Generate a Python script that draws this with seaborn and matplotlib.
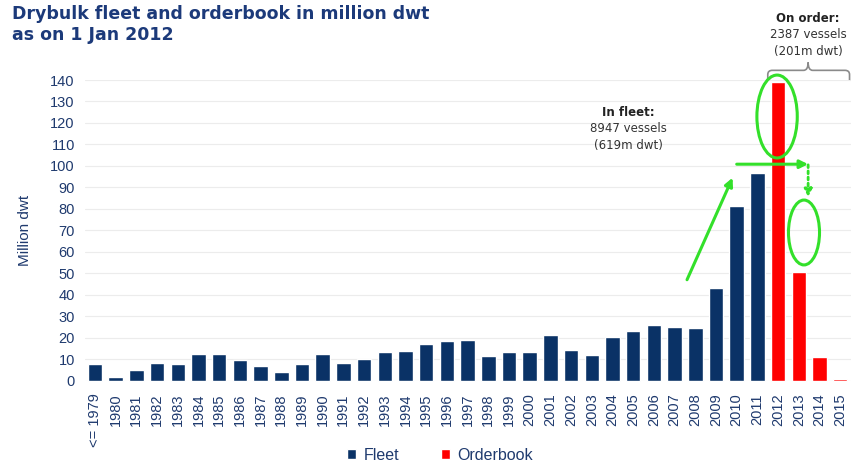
import matplotlib
matplotlib.use("Agg")
import matplotlib.pyplot as plt
from matplotlib.patches import Ellipse, Patch, PathPatch
from matplotlib.path import Path
import seaborn as sns
import pandas as pd

# Delivery year labels (fleet by build year, orderbook by scheduled delivery)
years = ["<= 1979"] + [str(y) for y in range(1980, 2016)]

fleet = [7.6, 1.6, 5.1, 8.2, 7.6, 12.5, 12.5, 9.8, 6.7, 4.0,
         7.6, 12.5, 8.2, 10.1, 13.2, 13.7, 17.2, 18.5, 19.0, 11.5,
         13.2, 13.2, 21.1, 14.3, 12.1, 20.2, 23.3, 25.8, 24.8, 24.4,
         43.0, 81.4, 96.5]
orderbook = [139.0, 50.4, 11.0, 0.6]

series = ["Fleet"] * len(fleet) + ["Orderbook"] * len(orderbook)
values = fleet + orderbook

df = pd.DataFrame({"year": years, "dwt": values, "series": series})

NAVY = "#0a3266"
RED = "#ff0000"
TEXT = "#1f3a6e"
GREEN = "#33e02a"

sns.set_theme(style="white")
plt.rcParams["font.family"] = ["Liberation Sans", "DejaVu Sans"]

fig = plt.figure(figsize=(8.51, 4.63), dpi=100)
ax = fig.add_axes([0.0994, 0.1778, 0.9001, 0.6494])

sns.barplot(data=df, x="year", y="dwt", hue="series", order=years,
            palette={"Fleet": NAVY, "Orderbook": RED}, dodge=False,
            width=0.7, saturation=1, legend=False, ax=ax)

ax.set_ylim(0, 140)
ax.set_xlim(-0.5, len(years) - 0.5)
ax.set_yticks(range(0, 141, 10))
ax.yaxis.grid(True, color="#ececec", linewidth=0.8)
ax.set_axisbelow(True)
for s in ax.spines.values():
    s.set_visible(False)
for b in ax.patches:
    b.set_clip_on(False)

ax.tick_params(axis="both", length=0, labelsize=10.5, labelcolor=TEXT)
ax.tick_params(axis="y", pad=7)
ax.tick_params(axis="x", pad=9)
plt.setp(ax.get_xticklabels(), rotation=90, va="top", ha="center")
ax.set_xlabel("")
ax.set_ylabel("Million dwt", color=TEXT, fontsize=11, labelpad=13)

# Title
fig.text(12 / 851, 1 - 5 / 463,
         "Drybulk fleet and orderbook in million dwt\nas on 1 Jan 2012",
         ha="left", va="top", fontsize=12.5, fontweight="bold",
         color="#1c3a7a", family="DejaVu Sans", linespacing=1.25)

# Legend
handles = [Patch(facecolor=NAVY, label="Fleet"),
           Patch(facecolor=RED, label="Orderbook")]
fig.legend(handles=handles, loc="center", bbox_to_anchor=(440 / 851, 1 - 455 / 463),
           ncol=2, frameon=False, fontsize=11.5, handlelength=0.55,
           handleheight=0.55, handletextpad=0.5, columnspacing=2.6,
           labelcolor=TEXT)

# Fleet / orderbook totals
def note(x, y_top, title, lines):
    ax.text(x, y_top, title, ha="center", va="center", fontsize=8.5,
            fontweight="bold", color="#222222", family="DejaVu Sans",
            clip_on=False)
    for i, line in enumerate(lines):
        ax.text(x, y_top - 7.7 * (i + 1), line, ha="center", va="center",
                fontsize=8.5, color="#333333", family="DejaVu Sans",
                clip_on=False)

note(25.75, 125.0, "In fleet:", ["8947 vessels", "(619m dwt)"])
note(34.45, 168.7, "On order:", ["2387 vessels", "(201m dwt)"])

# Brace over the orderbook years
xl, xr, xm = 32.5, 36.45, 34.45
yb, yh, yp = 140.0, 144.5, 148.2
rx, ry = 0.22, 2.0
verts = [(xl, yb), (xl, yh - ry), (xl, yh), (xl + rx, yh),
         (xm - rx, yh), (xm, yh), (xm, yp),
         (xm, yh), (xm + rx, yh),
         (xr - rx, yh), (xr, yh), (xr, yh - ry), (xr, yb)]
codes = [Path.MOVETO, Path.LINETO, Path.CURVE3, Path.CURVE3,
         Path.LINETO, Path.CURVE3, Path.CURVE3,
         Path.CURVE3, Path.CURVE3,
         Path.LINETO, Path.CURVE3, Path.CURVE3, Path.LINETO]
ax.add_patch(PathPatch(Path(verts, codes), facecolor="none",
                       edgecolor="#8a8a8a", linewidth=1.2, clip_on=False))

# Green highlights
ax.add_patch(Ellipse((32.95, 123), 1.95, 38.6, fill=False, edgecolor=GREEN,
                     linewidth=2.2, clip_on=False))
ax.add_patch(Ellipse((34.25, 69), 1.5, 30.2, fill=False, edgecolor=GREEN,
                     linewidth=2.2, clip_on=False))
ax.annotate("", xy=(30.8, 94.5), xytext=(28.6, 47),
            arrowprops=dict(arrowstyle="-|>", color=GREEN, lw=2.2,
                            mutation_scale=12, shrinkA=0, shrinkB=0))
ax.annotate("", xy=(34.45, 100.8), xytext=(31.0, 100.8),
            arrowprops=dict(arrowstyle="-|>", color=GREEN, lw=2.2,
                            mutation_scale=12, shrinkA=0, shrinkB=0))
ax.annotate("", xy=(34.45, 85.5), xytext=(34.45, 100.5),
            arrowprops=dict(arrowstyle="-|>", color=GREEN, lw=2.0,
                            linestyle=(0, (1, 1.2)), mutation_scale=11,
                            shrinkA=0, shrinkB=0))

fig.savefig("out.png", dpi=100)
